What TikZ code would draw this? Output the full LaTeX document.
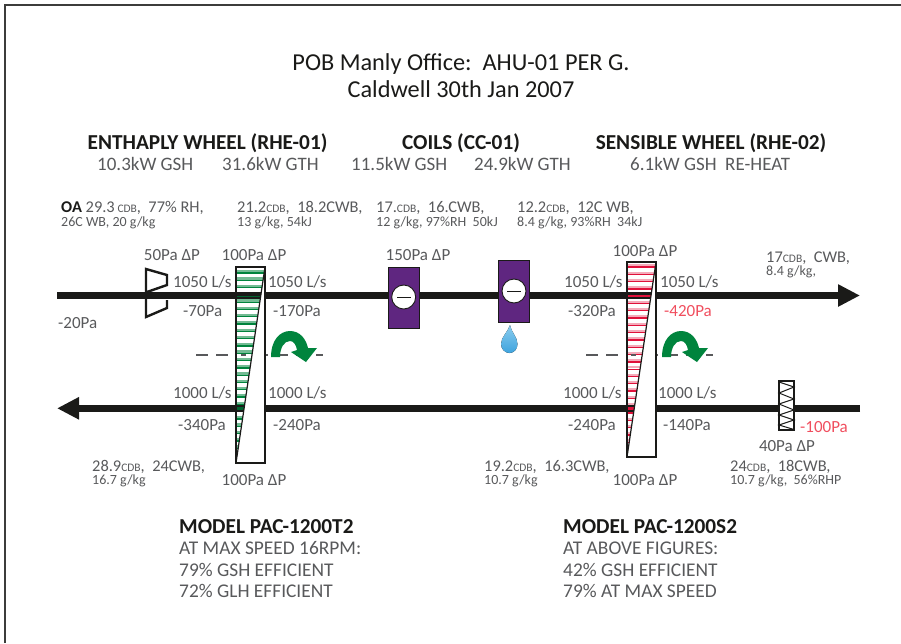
\documentclass[tikz,border=0pt]{standalone}
\usepackage{fontspec}
\setmainfont{Carlito}
\usetikzlibrary{arrows.meta}
\definecolor{txtgrey}{HTML}{58595B}
\definecolor{wheelgreen}{HTML}{00843D}
\definecolor{coilpurple}{HTML}{5F2680}
\definecolor{wheelred}{HTML}{E0103A}
\definecolor{hotred}{HTML}{F04E5E}
\definecolor{ductblack}{HTML}{1A1A18}
\definecolor{droplight}{HTML}{8ACCEE}
\definecolor{dropdark}{HTML}{3FA4DE}
\newcommand{\cdbtxt}{{\fontsize{11.5}{11.5}\selectfont CDB}}
\tikzset{
  lbl/.style={text=txtgrey,font=\fontsize{17}{19}\selectfont,inner sep=0pt,align=left},
  statetxt/.style={lbl,font=\fontsize{16.4}{19}\selectfont},
  smalltxt/.style={text=txtgrey,font=\fontsize{14}{14}\selectfont,inner sep=0pt,align=left},
  head/.style={text=ductblack,font=\fontsize{19}{21}\selectfont,inner sep=0pt,align=center},
  hot/.style={lbl,text=hotred},
  duct/.style={line width=6.5pt,ductblack},
  casing/.style={draw=ductblack,line width=1.2pt},
  centreline/.style={txtgrey,line width=1.2pt,dash pattern=on 12pt off 8pt},
}
\begin{document}
\begin{tikzpicture}[x=1pt,y=-1pt]
\useasboundingbox (0,0) rectangle (901,643);
\draw[line width=1.7pt,ductblack!85] (5.3,643) -- (5.3,5.3) -- (901,5.3);
% ducts
\coordinate (oain) at (57,295.5);
\coordinate (saout) at (860,295.5);
\coordinate (raout) at (57,408.3);
\coordinate (rain) at (860,408.3);
\draw[duct,-{Triangle[length=22pt,width=21pt]}] (oain) -- (saout);
\draw[duct,-{Triangle[length=22pt,width=21pt]}] (rain) -- (raout);
% centre lines
\draw[centreline] (196,355) -- (323,355);
\draw[centreline] (586,355) -- (713,355);
% damper
\draw[line width=2.4pt,ductblack,line join=miter] (147,292) -- (167,285) -- (167,275) -- (146,269) -- (146,317) -- (167,308) -- (167,300);
% enthalpy wheel
\fill[white] (236,267) rectangle (265,463);
\begin{scope}
\clip (236,267) -- (265,267) -- (236,463) -- cycle;
\foreach \ypos in {0,...,26} {
  \draw[wheelgreen!55,line width=2.2pt] (236,271.2+\ypos*7.3) -- (265,271.2+\ypos*7.3);
  \draw[wheelgreen,line width=1.3pt] (236,273+\ypos*7.3) -- (265,273+\ypos*7.3);
}
\fill[ductblack] (236,292.3) rectangle (265,298.7);
\fill[wheelgreen!75!black] (236,295.6) rectangle (265,297.4);
\fill[ductblack] (236,405) rectangle (265,411.7);
\fill[wheelgreen!75!black] (236,406.5) rectangle (265,410);
\end{scope}
\draw[casing] (236,267) rectangle (265,463);
\draw[casing] (265,267) -- (236,463);
\fill[txtgrey] (241,354.3) rectangle (246,355.7);
% sensible wheel
\fill[white] (627,262) rectangle (656,457);
\begin{scope}
\clip (627,262) -- (656,262) -- (627,457) -- cycle;
\foreach \ypos in {0,...,26} {
  \draw[wheelred!35,line width=2pt] (627,265.2+\ypos*7.3) -- (656,265.2+\ypos*7.3);
  \draw[wheelred,line width=1.3pt] (627,267+\ypos*7.3) -- (656,267+\ypos*7.3);
}
\fill[ductblack] (627,292.3) rectangle (656,298.7);
\fill[wheelred] (627,295.3) rectangle (656,297.3);
\fill[ductblack] (627,405) rectangle (656,411.7);
\fill[wheelred] (627,406.5) rectangle (656,410);
\end{scope}
\draw[casing] (627,262) rectangle (656,457);
\draw[casing] (656,262) -- (627,457);
\fill[txtgrey] (631,354.3) rectangle (636,355.7);
% wheel rotation
\foreach \xoff in {0,391}
  \fill[wheelgreen,xshift=\xoff pt] (271,357) .. controls (271,340) and (280,331) .. (290,331) .. controls (300,331) and (306,339) .. (308,348) -- (317,348) -- (306,362) -- (291,352) -- (297,350) .. controls (296,345) and (294,341) .. (290,341) .. controls (284,341) and (280,348) .. (280,357) -- cycle;
% coils
\node[draw=ductblack,line width=0.9pt,fill=coilpurple,minimum width=31pt,minimum height=61pt,inner sep=0pt] (coilone) at (403.5,297.5) {};
\node[draw=ductblack,line width=0.9pt,fill=coilpurple,minimum width=31pt,minimum height=62pt,inner sep=0pt] (coiltwo) at (514,291) {};
\node[draw=ductblack,line width=0.9pt,fill=white,circle,minimum size=24pt,inner sep=0pt] (signone) at (403.7,297) {};
\node[draw=ductblack,line width=0.9pt,fill=white,circle,minimum size=24pt,inner sep=0pt] (signtwo) at (514,291) {};
\draw[ductblack,line width=1pt] (397,297) -- (410.5,297);
\draw[ductblack,line width=1pt] (507,291) -- (521,291);
% drop
\fill[top color=droplight,bottom color=dropdark] (510,325) .. controls (511,332) and (517.5,337) .. (517.5,344) .. controls (517.5,349) and (514,353) .. (509.5,353) .. controls (505,353) and (501,349) .. (501,344) .. controls (501,337) and (508,332) .. (510,325) -- cycle;
% filter
\fill[white] (779,381) rectangle (794,430);
\draw[casing] (779,381) rectangle (794,430);
\draw[casing,line width=1pt] (779,382) -- (794,387) -- (779,393) -- (794,399) -- (779,404) -- (794,410) -- (779,415) -- (794,420) -- (779,425) -- (794,429.5);
% titles
\node[head,font=\fontsize{24.3}{27}\selectfont] (title) at (461,75.5) {POB Manly Office:\ \ AHU-01 PER G.\\Caldwell 30th Jan 2007};
\node[head,font=\fontsize{21.3}{21}\selectfont\bfseries] (wheelonehead) at (207.5,143) {ENTHAPLY WHEEL (RHE-01)};
\node[head,font=\fontsize{21.3}{21}\selectfont\bfseries] (coilhead) at (461,143) {COILS (CC-01)};
\node[head,font=\fontsize{21.3}{21}\selectfont\bfseries] (wheeltwohead) at (711,143) {SENSIBLE WHEEL (RHE-02)};
\node[head,anchor=west,text=txtgrey] (gshone) at (97,164) {10.3kW GSH};
\node[head,anchor=west,text=txtgrey] (gthone) at (222,164) {31.6kW GTH};
\node[head,anchor=west,text=txtgrey] (gshtwo) at (351,164) {11.5kW GSH};
\node[head,anchor=west,text=txtgrey] (gthtwo) at (474,164) {24.9kW GTH};
\node[head,anchor=west,text=txtgrey] (gshthree) at (630,164) {6.1kW GSH\ \ RE-HEAT};
% air states
\node[statetxt,anchor=west] (oastate) at (61,208) {{\bfseries\color{ductblack}OA} 29.3\,\cdbtxt,\ \ 77\% RH,};
\node[smalltxt,anchor=west] (oastateb) at (61,223) {26C WB, 20 g/kg};
\node[statetxt,anchor=west] (afterone) at (237,208) {21.2\cdbtxt,\ \ 18.2CWB,};
\node[smalltxt,anchor=west] (afteroneb) at (237,223) {13 g/kg, 54kJ};
\node[statetxt,anchor=west] (coilin) at (376,208) {17.\cdbtxt,\ \ 16.CWB,};
\node[smalltxt,anchor=west] (coilinb) at (376,223) {12 g/kg, 97\%RH\ \ 50kJ};
\node[statetxt,anchor=west] (coilout) at (517,208) {12.2\cdbtxt,\ \ 12C WB,};
\node[smalltxt,anchor=west] (coiloutb) at (517,223) {8.4 g/kg, 93\%RH\ \ 34kJ};
\node[statetxt,anchor=west] (supply) at (766,258) {17\cdbtxt,\ \ CWB,};
\node[smalltxt,anchor=west] (supplyb) at (766,272) {8.4 g/kg,};
\node[statetxt,anchor=west] (exhaust) at (92,467) {28.9\cdbtxt,\ \ 24CWB,};
\node[smalltxt,anchor=west] (exhaustb) at (92,481) {16.7 g/kg};
\node[statetxt,anchor=west] (midstate) at (484,467) {19.2\cdbtxt,\ \ 16.3CWB,};
\node[smalltxt,anchor=west] (midstateb) at (484,481) {10.7 g/kg};
\node[statetxt,anchor=west] (rastate) at (730,467) {24\cdbtxt,\ \ 18CWB,};
\node[smalltxt,anchor=west] (rastateb) at (730,481) {10.7 g/kg,\ \ 56\%RHP};
% pressures and flows
\node[lbl] (dpdamper) at (172,255) {50Pa ΔP};
\node[lbl] (dpwheela) at (254,255) {100Pa ΔP};
\node[lbl] (dpcoil) at (418,255) {150Pa ΔP};
\node[lbl] (dpwheelb) at (645,251) {100Pa ΔP};
\node[lbl] (dpwheelc) at (254,480) {100Pa ΔP};
\node[lbl] (dpwheeld) at (645,480) {100Pa ΔP};
\node[lbl] (dpfilter) at (787,446) {40Pa ΔP};
\node[lbl,anchor=west] (flowa) at (173,282) {1050 L/s};
\node[lbl,anchor=west] (flowb) at (268,282) {1050 L/s};
\node[lbl,anchor=west] (flowc) at (564,282) {1050 L/s};
\node[lbl,anchor=west] (flowd) at (660,282) {1050 L/s};
\node[lbl,anchor=west] (flowe) at (173,393) {1000 L/s};
\node[lbl,anchor=west] (flowf) at (268,393) {1000 L/s};
\node[lbl,anchor=west] (flowg) at (563,393) {1000 L/s};
\node[lbl,anchor=west] (flowh) at (658,393) {1000 L/s};
\node[lbl,anchor=west] (pa) at (58,323) {-20Pa};
\node[lbl,anchor=west] (pb) at (183,311) {-70Pa};
\node[lbl,anchor=west] (pc) at (273,311) {-170Pa};
\node[lbl,anchor=west] (pd) at (568,311) {-320Pa};
\node[hot,anchor=west] (pe) at (664,311) {-420Pa};
\node[lbl,anchor=west] (pf) at (178,425) {-340Pa};
\node[lbl,anchor=west] (pg) at (273,425) {-240Pa};
\node[lbl,anchor=west] (ph) at (568,425) {-240Pa};
\node[lbl,anchor=west] (pi) at (663,425) {-140Pa};
\node[hot,anchor=west] (pj) at (800,427) {-100Pa};
% models
\node[head,anchor=north west,align=left,text=txtgrey,font=\fontsize{19.4}{21.5}\selectfont] (modelone) at (179,519) {{\fontsize{21.3}{21.5}\selectfont\bfseries\color{ductblack}MODEL PAC-1200T2}\\AT MAX SPEED 16RPM:\\79\% GSH EFFICIENT\\72\% GLH EFFICIENT};
\node[head,anchor=north west,align=left,text=txtgrey,font=\fontsize{19.4}{21.5}\selectfont] (modeltwo) at (563,519) {{\fontsize{21.3}{21.5}\selectfont\bfseries\color{ductblack}MODEL PAC-1200S2}\\AT ABOVE FIGURES:\\42\% GSH EFFICIENT\\79\% AT MAX SPEED};
\end{tikzpicture}
\end{document}
